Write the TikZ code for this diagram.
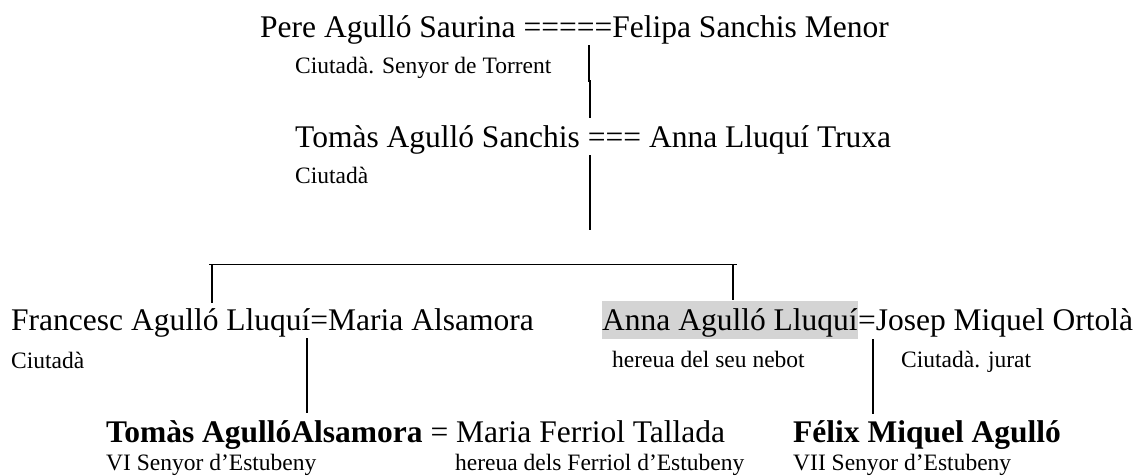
\documentclass[tikz,border=0pt]{standalone}
\usepackage{fontspec}
\setmainfont{Liberation Serif}
\begin{document}
\begin{tikzpicture}[x=1pt,y=-1pt,
		persona/.style={anchor=base west,inner sep=0pt,font=\fontsize{31.5}{36}\selectfont},
		titol/.style={anchor=base west,inner sep=0pt,font=\fontsize{23.5}{26}\selectfont},
		tija/.style={line width=2pt},
		branca/.style={line width=1pt}]
		\useasboundingbox (0,0) rectangle (1143,475);
		% generacions
		\node[persona] (pere) at (260,37) {Pere Agulló Saurina =====Felipa Sanchis Menor};
		\node[titol] (pereT) at (295,73) {Ciutadà. Senyor de Torrent};
		\node[persona] (tomas) at (295,147) {Tomàs Agulló Sanchis === Anna Lluquí Truxa};
		\node[titol] (tomasT) at (295,183) {Ciutadà};
		\node[persona] (francesc) at (11,330) {Francesc Agulló Lluquí=Maria Alsamora};
		\node[titol] (francescT) at (11,368) {Ciutadà};
		\node[persona,fill=black!17,text height=29pt,text depth=9pt] (anna) at (602,330) {Anna Agulló Lluquí};
		\node[persona] (josep) at (anna.base east) {=Josep Miquel Ortolà};
		\node[titol] (annaT) at (612,367) {hereua del seu nebot};
		\node[titol] (josepT) at (901,367) {Ciutadà. jurat};
		\node[persona] (tomasA) at (106,442) {\textbf{Tomàs AgullóAlsamora} = Maria Ferriol Tallada};
		\node[titol] (tomasAT) at (106,470) {VI Senyor d’Estubeny};
		\node[titol] (mariaT) at (455,470) {hereua dels Ferriol d’Estubeny};
		\node[persona] (felix) at (793,442) {\textbf{Félix Miquel Agulló}};
		\node[titol] (felixT) at (793,470) {VII Senyor d’Estubeny};
		% punts de les línies
		\coordinate (a1) at (589,45);   \coordinate (a2) at (589,82);
		\coordinate (a3) at (590,80);   \coordinate (a4) at (590,118);
		\coordinate (b1) at (590,155);  \coordinate (b2) at (590,230);
		\coordinate (h1) at (209,264);  \coordinate (h2) at (737,264);
		\coordinate (c1) at (212,264);  \coordinate (c2) at (212,303);
		\coordinate (d1) at (733,264);  \coordinate (d2) at (733,300);
		\coordinate (e1) at (307,338);  \coordinate (e2) at (307,413);
		\coordinate (f1) at (873,339);  \coordinate (f2) at (873,414);
		\draw[tija] (a1) -- (a2);
		\draw[tija] (a3) -- (a4);
		\draw[tija] (b1) -- (b2);
		\draw[branca] (h1) -- (h2);
		\draw[tija] (c1) -- (c2);
		\draw[tija] (d1) -- (d2);
		\draw[tija] (e1) -- (e2);
		\draw[tija] (f1) -- (f2);
	\end{tikzpicture}
\end{document}
